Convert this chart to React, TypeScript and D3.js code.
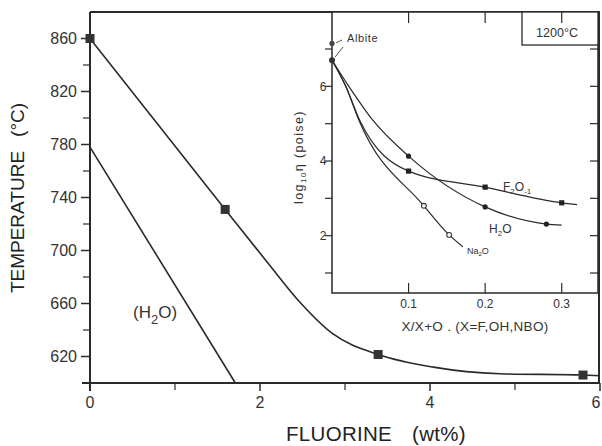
import React from "react";
import * as d3 from "d3";

// Main chart data
const mainCurveF = [0, 1.59, 2.1, 2.47, 2.86, 3.39, 4.04, 4.82, 5.8, 6.0];
const mainCurveT = [860, 731, 690, 661, 637, 621.5, 612, 607, 606, 605.5];
const squareF = [0, 1.59, 3.39, 5.8];
const squareT = [860, 731, 621.5, 606];
const h2oLineF = [0, 1.71];
const h2oLineT = [778, 600];
const xTicksMajor = [0, 2, 4, 6];
const xTicksMinor = [1, 3, 5];
const yTicksMajor = [620, 660, 700, 740, 780, 820, 860];
const yTicksMinor = [600, 640, 680, 720, 760, 800, 840];

// Inset data
const insetH2oX = [0, 0.022, 0.053, 0.1, 0.2, 0.28, 0.3];
const insetH2oY = [6.7, 6.0, 5.1, 4.13, 2.77, 2.31, 2.28];
const insetH2oPtsX = [0.1, 0.2, 0.28];
const insetH2oPtsY = [4.13, 2.77, 2.31];
const insetF2oX = [0, 0.018, 0.036, 0.1, 0.2, 0.3, 0.32];
const insetF2oY = [6.7, 6.0, 5.1, 3.73, 3.3, 2.88, 2.83];
const insetF2oPtsX = [0.1, 0.2, 0.3];
const insetF2oPtsY = [3.73, 3.3, 2.88];
const insetNa2oX = [0, 0.018, 0.035, 0.12, 0.153, 0.171];
const insetNa2oY = [6.7, 6.0, 5.1, 2.8, 2.02, 1.7];
const insetNa2oPtsX = [0.12, 0.153];
const insetNa2oPtsY = [2.8, 2.02];
const albiteX = 0;
const albiteY = 7.15;
const insetXTicks = [0.1, 0.2, 0.3];
const insetYTicksLabeled = [2, 4, 6];
const insetYTicksAll = [1, 2, 3, 4, 5, 6, 7];

const INK = "#2a2a2a";
const FONT = "'Liberation Sans', Arial, Helvetica, sans-serif";

export default function App() {
  const x = d3.scaleLinear().domain([0, 6]).range([90, 600]);
  const y = d3.scaleLinear().domain([600, 880]).range([383, 12]);
  const ix = d3.scaleLinear().domain([0, 0.35]).range([332, 600]);
  const iy = d3.scaleLinear().domain([1, 7]).range([273, 49]);

  const mainLine = d3
    .line<number>()
    .x((d, i) => x(mainCurveF[i]))
    .y((d) => y(d))
    .curve(d3.curveMonotoneX);
  const insetLine = (xs: number[]) =>
    d3
      .line<number>()
      .x((d, i) => ix(xs[i]))
      .y((d) => iy(d))
      .curve(d3.curveMonotoneX);

  const insL = 332, insR = 598, insT = 12, insB = 293;

  return (
    <svg
      width={602}
      height={446}
      style={{ position: "absolute", left: 0, top: 0, background: "#fff" }}
      fontFamily={FONT}
    >
      <rect x={0} y={0} width={602} height={446} fill="#fff" />
      {/* main frame */}
      <line x1={82} x2={600} y1={383} y2={383} stroke={INK} strokeWidth={2} />
      <line x1={90} x2={90} y1={12} y2={391} stroke={INK} strokeWidth={2} />
      <line x1={90} x2={600} y1={12} y2={12} stroke={INK} strokeWidth={2} />
      <line x1={599} x2={599} y1={12} y2={383} stroke={INK} strokeWidth={2} />

      {/* y ticks */}
      {yTicksMajor.map((t) => (
        <g key={"ym" + t}>
          <line x1={81} x2={90} y1={y(t)} y2={y(t)} stroke={INK} strokeWidth={1.5} />
          <text x={77} y={y(t)} dy="0.36em" textAnchor="end" fontSize={16} fill="#333">
            {t}
          </text>
        </g>
      ))}
      {yTicksMinor.map((t) => (
        <line key={"yn" + t} x1={83} x2={90} y1={y(t)} y2={y(t)} stroke={INK} strokeWidth={1.2} />
      ))}
      {/* x ticks */}
      {xTicksMajor.map((t) => (
        <g key={"xm" + t}>
          <line x1={x(t)} x2={x(t)} y1={383} y2={391} stroke={INK} strokeWidth={1.5} />
          <text x={Math.min(x(t), 596)} y={408} textAnchor="middle" fontSize={16} fill="#333">
            {t}
          </text>
        </g>
      ))}
      {xTicksMinor.map((t) => (
        <line key={"xn" + t} x1={x(t)} x2={x(t)} y1={383} y2={390} stroke={INK} strokeWidth={1.2} />
      ))}

      {/* axis titles */}
      <text
        transform={`translate(24,198) rotate(-90)`}
        textAnchor="middle"
        fontSize={19}
        fill="#222"
      >
        TEMPERATURE
        <tspan dx={14}>(°C)</tspan>
      </text>
      <text x={376} y={441} textAnchor="middle" fontSize={20.5} fill="#222" letterSpacing={0.3}>
        FLUORINE
        <tspan dx={20}>(wt%)</tspan>
      </text>

      {/* main curves */}
      <path d={mainLine(mainCurveT) || ""} fill="none" stroke={INK} strokeWidth={1.6} />
      <line
        x1={x(h2oLineF[0])}
        y1={y(h2oLineT[0])}
        x2={x(h2oLineF[1])}
        y2={y(h2oLineT[1])}
        stroke={INK}
        strokeWidth={1.6}
      />
      {squareF.map((f, i) => (
        <rect
          key={"sq" + i}
          x={x(f) - 4.5}
          y={y(squareT[i]) - 4.5}
          width={9}
          height={9}
          fill="#333"
        />
      ))}
      <text x={133} y={318} fontSize={17} fill="#333">
        (H
        <tspan dy={6} fontSize={13}>2</tspan>
        <tspan dy={-6}>O)</tspan>
      </text>

      {/* inset */}
      <rect x={insL} y={insT} width={insR - insL} height={insB - insT} fill="#fff" stroke={INK} strokeWidth={1.5} />
      <rect x={522} y={insT} width={insR - 522} height={45 - insT} fill="#fff" stroke={INK} strokeWidth={1.3} />
      <text x={557} y={33} dy="0.35em" textAnchor="middle" fontSize={12.5} fill="#333">
        1200°C
      </text>
      {insetXTicks.map((t) => (
        <g key={"ix" + t}>
          <line x1={ix(t)} x2={ix(t)} y1={insT} y2={insT + 11} stroke={INK} strokeWidth={1.2} />
          <line x1={ix(t)} x2={ix(t)} y1={insB} y2={insB - 10} stroke={INK} strokeWidth={1.2} />
          <text x={ix(t)} y={308} textAnchor="middle" fontSize={12} fill="#333">
            {t.toFixed(1)}
          </text>
        </g>
      ))}
      {insetYTicksAll.map((t) => (
        <g key={"iy" + t}>
          <line x1={insL - 7} x2={insL} y1={iy(t)} y2={iy(t)} stroke={INK} strokeWidth={1.2} />
          <line x1={insR - 8} x2={insR} y1={iy(t)} y2={iy(t)} stroke={INK} strokeWidth={1.2} />
        </g>
      ))}
      {insetYTicksLabeled.map((t) => (
        <text key={"iyl" + t} x={323} y={iy(t)} dy="0.36em" textAnchor="middle" fontSize={12} fill="#333">
          {t}
        </text>
      ))}
      <text x={475} y={331} textAnchor="middle" fontSize={13.5} fill="#333" letterSpacing={0.3}>
        X/X+O . (X=F,OH,NBO)
      </text>
      <text
        transform="translate(303,157) rotate(-90)"
        textAnchor="middle"
        fontSize={12.5}
        letterSpacing={1.4}
        fill="#333"
      >
        log
        <tspan dy={3} fontSize={8}>10</tspan>
        <tspan dy={-3}>η (poise)</tspan>
      </text>

      <path d={insetLine(insetH2oX)(insetH2oY) || ""} fill="none" stroke={INK} strokeWidth={1.2} />
      <path d={insetLine(insetF2oX)(insetF2oY) || ""} fill="none" stroke={INK} strokeWidth={1.2} />
      <path d={insetLine(insetNa2oX)(insetNa2oY) || ""} fill="none" stroke={INK} strokeWidth={1.2} />
      {insetH2oPtsX.map((v, i) => (
        <circle key={"hp" + i} cx={ix(v)} cy={iy(insetH2oPtsY[i])} r={2.6} fill="#222" />
      ))}
      {insetF2oPtsX.map((v, i) => (
        <rect key={"fp" + i} x={ix(v) - 2.6} y={iy(insetF2oPtsY[i]) - 2.6} width={5.2} height={5.2} fill="#222" />
      ))}
      {insetNa2oPtsX.map((v, i) => (
        <circle key={"np" + i} cx={ix(v)} cy={iy(insetNa2oPtsY[i])} r={2.4} fill="#fff" stroke="#333" strokeWidth={1.1} />
      ))}
      <circle cx={ix(albiteX)} cy={iy(albiteY)} r={2.6} fill="#444" />
      <circle cx={ix(insetH2oX[0])} cy={iy(insetH2oY[0])} r={3} fill="#333" />
      <line x1={ix(albiteX) + 4} y1={iy(albiteY) - 0.5} x2={342} y2={40} stroke="#555" strokeWidth={1} />
      <line x1={ix(insetH2oX[0]) + 3} y1={iy(insetH2oY[0]) - 3} x2={343} y2={47} stroke="#555" strokeWidth={1} />
      <text x={347} y={42} fontSize={11} letterSpacing={0.6} fill="#333">
        Albite
      </text>
      <text x={503} y={191} fontSize={12} fill="#333">
        F
        <tspan dy={3} fontSize={8}>2</tspan>
        <tspan dy={-3}>O</tspan>
        <tspan dy={3} fontSize={8}>-1</tspan>
      </text>
      <text x={489} y={233} fontSize={12} fill="#333">
        H
        <tspan dy={3} fontSize={8}>2</tspan>
        <tspan dy={-3}>O</tspan>
      </text>
      <text x={467} y={254} fontSize={9} fill="#333">
        Na
        <tspan dy={2} fontSize={6}>2</tspan>
        <tspan dy={-2}>O</tspan>
      </text>
    </svg>
  );
}
